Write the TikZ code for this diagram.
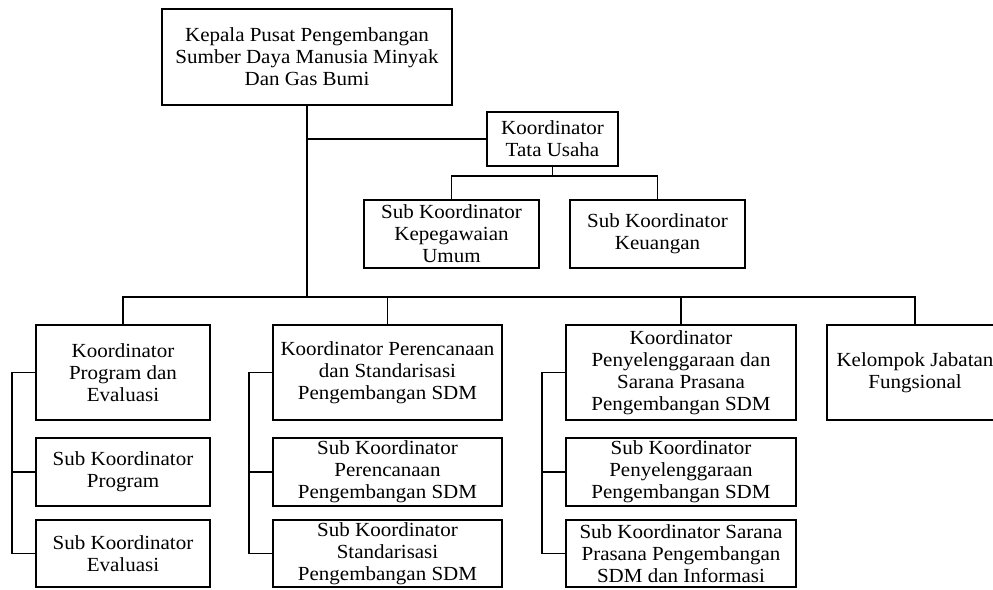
\documentclass[tikz,border=0pt]{standalone}
\usepackage{fontspec}
\setmainfont[FakeStretch=1.05]{Liberation Serif}
\usepackage{tikz}

\tikzset{
	jabatan/.style={draw, line width=1.7pt, inner sep=0pt, align=center,
		font=\fontsize{20}{22}\selectfont},
	garis/.style={line width=1.7pt}
}

\begin{document}
\begin{tikzpicture}[x=1pt, y=-1pt]
			%%%%% START %%%%%
			
			\useasboundingbox (0, 0) rectangle (993, 589);
			\clip (0, 0) rectangle (993, 589);
			
			\node[jabatan, minimum width=290, minimum height=96] (kepala) at (307, 57) {Kepala Pusat Pengembangan\\Sumber Daya Manusia Minyak\\Dan Gas Bumi};
			\node[jabatan, minimum width=131, minimum height=54] (tu) at (552.5, 139) {Koordinator\\Tata Usaha};
			\node[jabatan, minimum width=175, minimum height=68] (kepeg) at (451.5, 234) {Sub Koordinator\\Kepegawaian\\Umum};
			\node[jabatan, minimum width=175, minimum height=68] (keu) at (657.5, 234) {Sub Koordinator\\Keuangan};
			
			\node[jabatan, minimum width=174, minimum height=95] (prog) at (123, 372.5) {Koordinator\\Program dan\\Evaluasi};
			\node[jabatan, minimum width=174, minimum height=68] (subprog) at (123, 472) {Sub Koordinator\\Program};
			\node[jabatan, minimum width=174, minimum height=67] (subeval) at (123, 553.5) {Sub Koordinator\\Evaluasi};
			
			\node[jabatan, minimum width=229, minimum height=95] (renc) at (387.5, 372.5) {Koordinator Perencanaan\\dan Standarisasi\\Pengembangan SDM};
			\node[jabatan, minimum width=229, minimum height=68] (subrenc) at (387.5, 472) {Sub Koordinator\\Perencanaan\\Pengembangan SDM};
			\node[jabatan, minimum width=229, minimum height=67] (substd) at (387.5, 553.5) {Sub Koordinator\\Standarisasi\\Pengembangan SDM};
			
			\node[jabatan, minimum width=230, minimum height=95] (peny) at (681, 372.5) {Koordinator\\Penyelenggaraan dan\\Sarana Prasana\\Pengembangan SDM};
			\node[jabatan, minimum width=230, minimum height=68] (subpeny) at (681, 472) {Sub Koordinator\\Penyelenggaraan\\Pengembangan SDM};
			\node[jabatan, minimum width=230, minimum height=67] (subsar) at (681, 553.5) {Sub Koordinator Sarana\\Prasana Pengembangan\\SDM dan Informasi};
			
			\node[jabatan, minimum width=176, minimum height=95] (kel) at (915, 372.5) {Kelompok Jabatan\\Fungsional};
			
			% garis komando
			\coordinate (bus) at (307, 297);
			\coordinate (tubus) at (552.5, 176);
			
			\draw[garis] (kepala.south) -- (bus);
			\draw[garis] (kepala.south |- tu.west) -- (tu.west);
			\draw[garis] (tu.south) -- (tubus);
			\draw[garis] (kepeg.north) -- (kepeg.north |- tubus) -- (keu.north |- tubus) -- (keu.north);
			
			\draw[garis] (prog.north) -- (prog.north |- bus) -- (kel.north |- bus) -- (kel.north);
			\foreach \k in {renc, peny}
				\draw[garis] (\k.north) -- (\k.north |- bus);
			
			\foreach \k/\a/\b in {prog/subprog/subeval, renc/subrenc/substd, peny/subpeny/subsar}{
				\draw[garis] (\k.west) -- ++(-23.5, 0) |- (\b.west);
				\draw[garis] (\a.west) -- ++(-23.5, 0);
			}
			
			%%%%% END %%%%%
\end{tikzpicture}
\end{document}
